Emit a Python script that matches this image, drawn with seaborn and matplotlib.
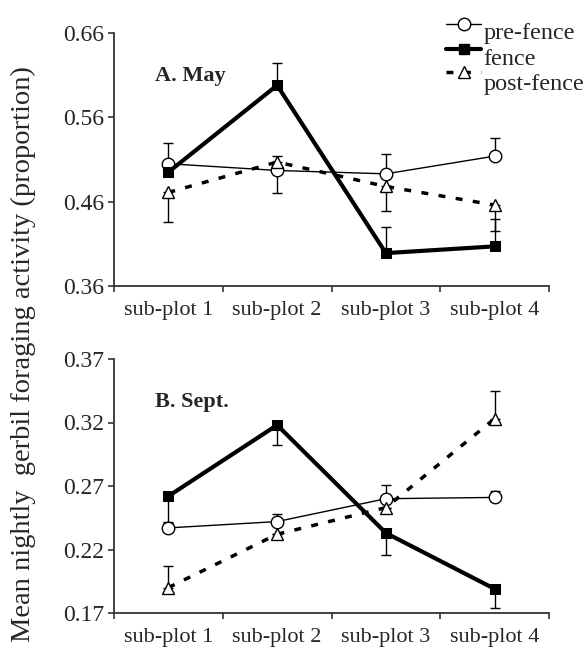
import matplotlib
matplotlib.use("Agg")
import matplotlib.pyplot as plt
from matplotlib.legend_handler import HandlerLine2D
import seaborn as sns
import numpy as np

sns.set_theme(style="ticks")
plt.rcParams['font.family'] = ['Liberation Serif', 'DejaVu Serif']

categories = ["sub-plot 1", "sub-plot 2", "sub-plot 3", "sub-plot 4"]

# Panel A (May)
may_pre = [0.505, 0.497, 0.493, 0.514]
may_pre_lo = [0.0, 0.027, 0.0, 0.0]
may_pre_hi = [0.025, 0.0, 0.023, 0.022]
may_fence = [0.495, 0.598, 0.399, 0.407]
may_fence_lo = [0.0, 0.0, 0.0, 0.0]
may_fence_hi = [0.0, 0.027, 0.031, 0.033]
may_post = [0.471, 0.507, 0.478, 0.456]
may_post_lo = [0.035, 0.0, 0.029, 0.031]
may_post_hi = [0.0, 0.007, 0.0, 0.0]

# Panel B (Sept.)
sep_pre = [0.237, 0.242, 0.260, 0.261]
sep_pre_lo = [0.0, 0.0, 0.0, 0.0]
sep_pre_hi = [0.004, 0.006, 0.011, 0.005]
sep_fence = [0.262, 0.318, 0.233, 0.189]
sep_fence_lo = [0.020, 0.016, 0.017, 0.015]
sep_fence_hi = [0.0, 0.0, 0.0, 0.0]
sep_post = [0.190, 0.232, 0.253, 0.323]
sep_post_lo = [0.0, 0.0, 0.0, 0.0]
sep_post_hi = [0.017, 0.0, 0.0, 0.022]

may_ticks = [0.36, 0.46, 0.56, 0.66]
sep_ticks = [0.17, 0.22, 0.27, 0.32, 0.37]

series_names = ["pre-fence", "fence", "post-fence"]

styles = {
    "pre-fence": dict(color="black", linewidth=1.0, linestyle="-", marker="o",
                      markersize=9, markerfacecolor="white", markeredgecolor="black",
                      markeredgewidth=1.0),
    "fence": dict(color="black", linewidth=3.0, linestyle="-", marker="s",
                  markersize=7, markerfacecolor="black", markeredgecolor="black"),
    "post-fence": dict(color="black", linewidth=2.5, linestyle=(0, (2, 3)), marker="^",
                       markersize=9, markerfacecolor="white", markeredgecolor="black",
                       markeredgewidth=1.0),
}


class ShiftedHandler(HandlerLine2D):
    """Legend handle drawn a little above the label's centre line."""
    def __init__(self, shift, **kw):
        super().__init__(**kw)
        self._shift = shift

    def create_artists(self, legend, orig_handle, xdescent, ydescent, width,
                       height, fontsize, trans):
        return super().create_artists(legend, orig_handle, xdescent,
                                      ydescent - self._shift, width, height,
                                      fontsize, trans)


W, H = 587, 655
fig = plt.figure(figsize=(W / 100, H / 100), dpi=100)
left, right = 114, 549
axA = fig.add_axes([left / W, 1 - 286 / H, (right - left) / W, (286 - 33) / H])
axB = fig.add_axes([left / W, 1 - 613 / H, (right - left) / W, (613 - 359) / H])

x = np.arange(len(categories))

def draw(ax, vals, los, his, ylim, yticks, title):
    for name, v, lo, hi in zip(series_names, vals, los, his):
        st = styles[name]
        ax.errorbar(x, v, yerr=[lo, hi], fmt="none", ecolor="black",
                    elinewidth=1.0, capsize=3.5, capthick=1.0, zorder=2)
        sns.lineplot(x=x, y=v, ax=ax, sort=False, label=name, zorder=3,
                     dashes=False, **{k: val for k, val in st.items() if k != "linestyle"})
        ax.get_lines()[-1].set_linestyle(st["linestyle"])
    ax.set_xlim(-0.5, 3.5)
    ax.set_ylim(*ylim)
    ax.set_yticks(yticks)
    ax.set_yticklabels([f"{t:.2f}" for t in yticks])
    ax.set_xticks(np.arange(-0.5, 4.0, 1.0))
    ax.set_xticklabels([])
    ax.set_xticks(x, minor=True)
    ax.set_xticklabels(categories, minor=True)
    ax.tick_params(axis="x", which="minor", length=0, pad=11, labelsize=16)
    ax.tick_params(axis="x", which="major", length=4.5, width=1.2, direction="out", color="#333333")
    ax.tick_params(axis="y", length=4.5, width=1.2, direction="out", labelsize=17,
                   pad=2.5, color="#333333")
    for s in ["top", "right"]:
        ax.spines[s].set_visible(False)
    for s in ["left", "bottom"]:
        ax.spines[s].set_linewidth(1.3)
        ax.spines[s].set_color("#333333")
    ax.set_xlabel("")
    ax.set_ylabel("")
    ax.text(0.095, 0.83, title, transform=ax.transAxes, fontsize=16,
            fontweight="bold", ha="left", va="center")
    if ax.get_legend() is not None:
        ax.get_legend().remove()

draw(axA, [may_pre, may_fence, may_post],
     [may_pre_lo, may_fence_lo, may_post_lo],
     [may_pre_hi, may_fence_hi, may_post_hi],
     (0.36, 0.66), may_ticks, "A. May")
draw(axB, [sep_pre, sep_fence, sep_post],
     [sep_pre_lo, sep_fence_lo, sep_post_lo],
     [sep_pre_hi, sep_fence_hi, sep_post_hi],
     (0.17, 0.37), sep_ticks, "B. Sept.")

handles = [matplotlib.lines.Line2D([], [], **styles[n]) for n in series_names]
shifts = [8.6, 10.1, 14.4]
fig.legend(handles, series_names, loc="upper left",
           bbox_to_anchor=(446 / W, 1 - 22 / H), frameon=False,
           fontsize=17.4, handlelength=1.45, handletextpad=0.1,
           labelspacing=0.16, borderpad=0, borderaxespad=0,
           handler_map={h: ShiftedHandler(s) for h, s in zip(handles, shifts)})

fig.text(23 / W, 1 - 354 / H, "Mean nightly  gerbil foraging activity (proportion)",
         rotation=90, ha="center", va="center", fontsize=20.5)

fig.savefig("out.png", dpi=100)
